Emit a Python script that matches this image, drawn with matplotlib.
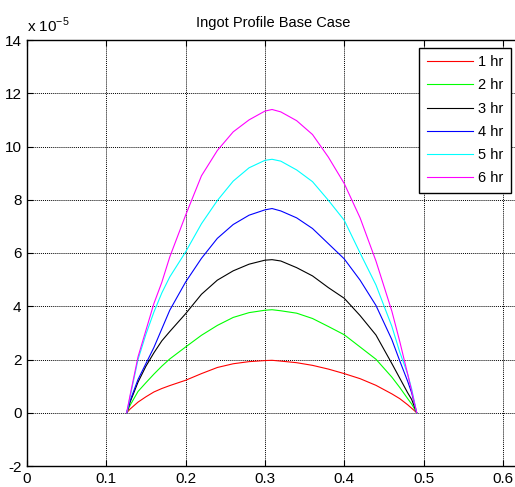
import numpy as np
import matplotlib
matplotlib.use("Agg")
import matplotlib.pyplot as plt

plt.rcParams['font.family'] = ['Liberation Sans', 'DejaVu Sans']

# depth profile sampled along x (values are in units of 1e-5)
x = [0.1257, 0.13, 0.14, 0.15, 0.16, 0.17, 0.18, 0.20, 0.22, 0.24, 0.26, 0.28,
     0.30, 0.309, 0.32, 0.34, 0.36, 0.38, 0.40, 0.42, 0.44, 0.46, 0.47, 0.48,
     0.485, 0.4914]

hr1 = [0, 0.14, 0.40, 0.60, 0.78, 0.91, 1.02, 1.22, 1.47, 1.70, 1.84, 1.92,
       1.96, 1.97, 1.94, 1.88, 1.78, 1.64, 1.47, 1.28, 1.03, 0.71, 0.53, 0.30,
       0.17, 0]
hr2 = [0, 0.28, 0.80, 1.13, 1.45, 1.75, 2.02, 2.47, 2.91, 3.28, 3.58, 3.76,
       3.85, 3.87, 3.83, 3.74, 3.54, 3.24, 2.93, 2.47, 2.01, 1.34, 0.95, 0.53,
       0.33, 0]
hr3 = [0, 0.40, 1.15, 1.75, 2.25, 2.70, 3.05, 3.72, 4.45, 4.98, 5.33, 5.58,
       5.73, 5.75, 5.70, 5.45, 5.14, 4.70, 4.30, 3.65, 2.92, 1.85, 1.30, 0.75,
       0.50, 0]
hr4 = [0, 0.45, 1.25, 1.85, 2.45, 3.15, 3.85, 4.91, 5.80, 6.55, 7.07, 7.42,
       7.62, 7.67, 7.58, 7.32, 6.92, 6.35, 5.78, 4.98, 4.03, 2.75, 1.95, 1.18,
       0.75, 0]
hr5 = [0, 0.60, 2.00, 2.95, 3.78, 4.50, 5.10, 6.04, 7.10, 7.97, 8.70, 9.20,
       9.48, 9.52, 9.45, 9.12, 8.68, 7.98, 7.23, 6.00, 4.80, 3.25, 2.28, 1.45,
       0.90, 0]
hr6 = [0, 0.66, 2.10, 3.10, 4.10, 4.90, 5.85, 7.42, 8.90, 9.85, 10.55, 11.00,
       11.33, 11.39, 11.30, 10.97, 10.45, 9.60, 8.61, 7.32, 5.70, 3.82, 2.68,
       1.45, 0.82, 0]

series = [hr1, hr2, hr3, hr4, hr5, hr6]
labels = ['1 hr', '2 hr', '3 hr', '4 hr', '5 hr', '6 hr']
colors = ['#ff0000', '#00ff00', '#000000', '#0000ff', '#00ffff', '#ff00ff']

xticks = [0, 0.1, 0.2, 0.3, 0.4, 0.5, 0.6]
yticks = [-2, 0, 2, 4, 6, 8, 10, 12, 14]

fig = plt.figure(figsize=(5.15, 4.87), dpi=100)
ax = fig.add_axes([27 / 515, 21 / 487, 491.7 / 515, 426 / 487])

for ys, lab, c in zip(series, labels, colors):
    ax.plot(x, np.array(ys) * 1e-5, color=c, lw=0.8, label=lab)

ax.set_xlim(0, 0.62)
ax.set_ylim(-2e-5, 14e-5)
ax.set_xticks(xticks)
ax.set_xticklabels(['0' if t == 0 else f'{t:g}' for t in xticks])
ax.set_yticks([t * 1e-5 for t in yticks])
ax.set_yticklabels([str(t) for t in yticks])
ax.tick_params(direction='in', length=4, width=0.8, labelsize=11,
               top=True, right=False, pad=4, colors='black')
ax.grid(True, color='black', linestyle=(0, (1, 1)), linewidth=0.7)
for s in ax.spines.values():
    s.set_linewidth(1.0)
ax.spines['right'].set_visible(False)

ax.set_title('Ingot Profile Base Case', fontsize=10.5, pad=9)
ax.text(0.0, 1.012, r'x 10$^{\mathregular{-5}}$', transform=ax.transAxes,
        fontsize=11, ha='left', va='bottom')

leg = ax.legend(loc='upper right', bbox_to_anchor=(511 / 515, 1 - 48 / 487),
                bbox_transform=fig.transFigure, fontsize=10.5, frameon=True,
                fancybox=False, edgecolor='black', framealpha=1,
                handlelength=3.2, handletextpad=0.35, labelspacing=0.63,
                borderpad=0.5, borderaxespad=0)
leg.get_frame().set_linewidth(1.0)

fig.savefig('out.png', dpi=100)
